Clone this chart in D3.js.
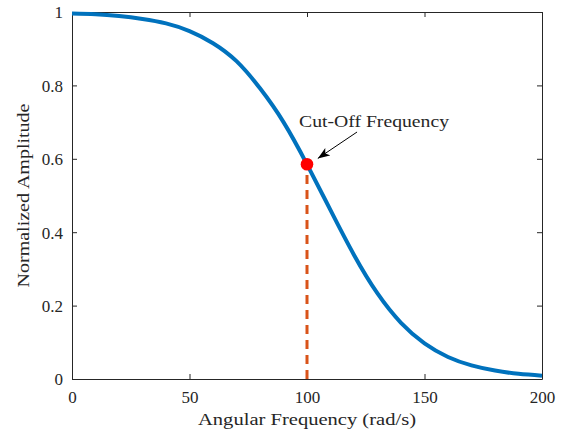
<!DOCTYPE html>
<html>
<head>
<meta charset="utf-8">
<script src="https://cdn.jsdelivr.net/npm/d3@7/dist/d3.min.js"></script>
<style>
  html, body { margin: 0; padding: 0; background: #fff; }
  svg { display: block; }
  text { font-family: "Liberation Serif", "DejaVu Serif", serif; fill: #262626; }
</style>
</head>
<body>
<svg id="chart" width="565" height="430"></svg>
<script>
// ---- data ----
const freq = [0, 10, 20, 30, 40, 50, 60, 70, 80, 90, 100, 110, 120, 130, 140, 150, 160, 170, 180, 190, 200];
const amplitude = [0.996, 0.994, 0.989, 0.981, 0.969, 0.948, 0.915, 0.866, 0.792, 0.700, 0.585, 0.460, 0.338, 0.233, 0.153, 0.097, 0.060, 0.037, 0.023, 0.014, 0.009];
const cutoffFreq = 100;
const cutoffAmp = 0.585;
const xTicks = [0, 50, 100, 150, 200];
const xTickLabels = ["0", "50", "100", "150", "200"];
const yTicks = [0, 0.2, 0.4, 0.6, 0.8, 1];
const yTickLabels = ["0", "0.2", "0.4", "0.6", "0.8", "1"];
const annotationText = "Cut-Off Frequency";
const annotationTail = [121.3, 0.673];
const annotationHead = [104.6, 0.601];
const annotationTextPos = [96.6, 0.687];
const xLabel = "Angular Frequency (rad/s)";
const yLabel = "Normalized Amplitude";

// ---- layout ----
const svg = d3.select("#chart");
const L = 72, R = 542, T = 12, B = 379;
const x = d3.scaleLinear().domain([0, 200]).range([L, R]);
const y = d3.scaleLinear().domain([0, 1]).range([B, T]);
const axisColor = "#262626";

// defs for arrowhead
svg.append("defs").append("marker")
  .attr("id", "arrow")
  .attr("viewBox", "0 -5 12 10")
  .attr("refX", 12).attr("refY", 0)
  .attr("markerWidth", 12).attr("markerHeight", 10)
  .attr("markerUnits", "userSpaceOnUse")
  .attr("orient", "auto")
  .append("path")
  .attr("d", "M0,-4.5 L12,0 L0,4.5 L3,0 Z")
  .attr("fill", "#000");

// axes (inward ticks, box)
const tickLen = 5;
const gBottom = svg.append("g").attr("transform", `translate(0,${B})`)
  .call(d3.axisBottom(x).tickValues(xTicks).tickFormat((d, i) => xTickLabels[i]).tickSizeInner(-tickLen).tickSizeOuter(0).tickPadding(12));
const gTop = svg.append("g").attr("transform", `translate(0,${T})`)
  .call(d3.axisTop(x).tickValues(xTicks).tickFormat("").tickSizeInner(-tickLen).tickSizeOuter(0));
const gLeft = svg.append("g").attr("transform", `translate(${L},0)`)
  .call(d3.axisLeft(y).tickValues(yTicks).tickFormat((d, i) => yTickLabels[i]).tickSizeInner(-tickLen).tickSizeOuter(0).tickPadding(9));
const gRight = svg.append("g").attr("transform", `translate(${R},0)`)
  .call(d3.axisRight(y).tickValues(yTicks).tickFormat("").tickSizeInner(-tickLen).tickSizeOuter(0));

[gBottom, gTop, gLeft, gRight].forEach(g => {
  g.select(".domain").attr("stroke", axisColor).attr("stroke-width", 1);
  g.selectAll(".tick line").attr("stroke", axisColor).attr("stroke-width", 1);
  g.selectAll(".tick text").style("font-size", "17px").attr("fill", axisColor)
    .style("font-family", "'Liberation Serif', 'DejaVu Serif', serif");
});
gBottom.selectAll(".tick text").attr("dy", "0.71em");
gLeft.selectAll(".tick text").attr("dy", "0.35em");

// dashed cut-off line
svg.append("line")
  .attr("x1", x(cutoffFreq)).attr("x2", x(cutoffFreq))
  .attr("y1", y(0)).attr("y2", y(cutoffAmp))
  .attr("stroke", "#D95319").attr("stroke-width", 3)
  .attr("stroke-dasharray", "9,6");

// curve
const line = d3.line().x((d, i) => x(freq[i])).y(d => y(d)).curve(d3.curveNatural);
svg.append("path")
  .datum(amplitude)
  .attr("d", line)
  .attr("fill", "none")
  .attr("stroke", "#0072BD")
  .attr("stroke-width", 4);

// cut-off marker
svg.append("circle")
  .attr("cx", x(cutoffFreq)).attr("cy", y(cutoffAmp))
  .attr("r", 6.3).attr("fill", "#FF0000");

// annotation arrow
svg.append("line")
  .attr("x1", x(annotationTail[0])).attr("y1", y(annotationTail[1]))
  .attr("x2", x(annotationHead[0])).attr("y2", y(annotationHead[1]))
  .attr("stroke", "#000").attr("stroke-width", 1)
  .attr("marker-end", "url(#arrow)");

svg.append("text")
  .attr("x", x(annotationTextPos[0])).attr("y", y(annotationTextPos[1]))
  .attr("textLength", 150).attr("lengthAdjust", "spacingAndGlyphs")
  .style("font-size", "17px").attr("fill", "#000")
  .text(annotationText);

// axis labels
svg.append("text")
  .attr("x", (L + R) / 2).attr("y", 425)
  .attr("text-anchor", "middle")
  .attr("textLength", 218).attr("lengthAdjust", "spacingAndGlyphs")
  .style("font-size", "17px")
  .text(xLabel);

svg.append("text")
  .attr("transform", `translate(29,${(T + B) / 2}) rotate(-90)`)
  .attr("text-anchor", "middle")
  .attr("textLength", 184).attr("lengthAdjust", "spacingAndGlyphs")
  .style("font-size", "17px")
  .text(yLabel);
</script>
</body>
</html>
